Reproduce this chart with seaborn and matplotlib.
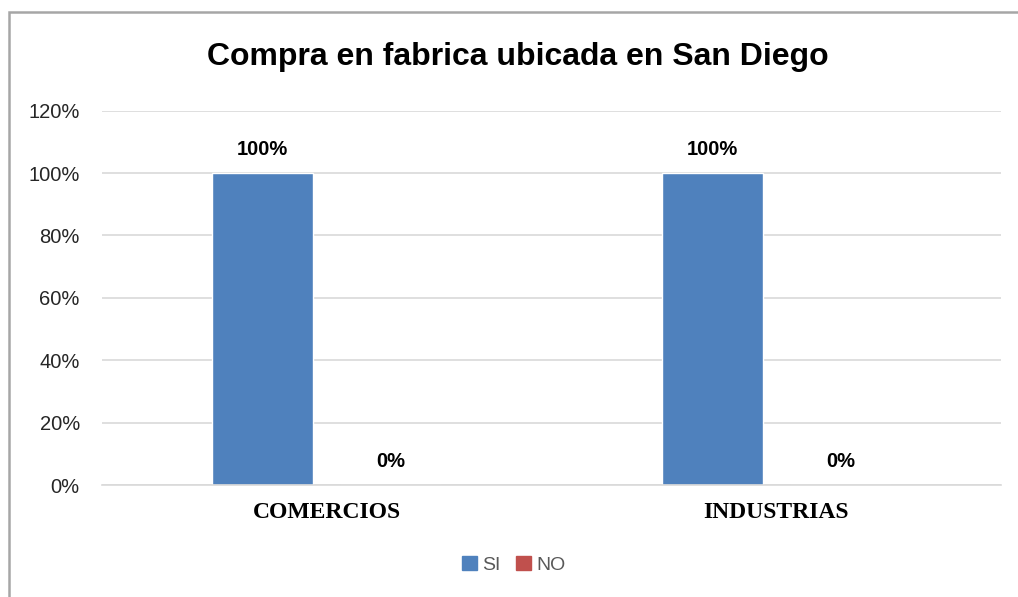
import matplotlib
matplotlib.use('Agg')
import matplotlib.pyplot as plt
from matplotlib.patches import Rectangle
import seaborn as sns
import pandas as pd

# Data
categorias = ['COMERCIOS', 'INDUSTRIAS']
series = ['SI', 'NO']
si_vals = [1.00, 1.00]
no_vals = [0.00, 0.00]
y_ticks = [0, 0.2, 0.4, 0.6, 0.8, 1.0, 1.2]
colores = ['#4F81BD', '#C0504D']

df = pd.DataFrame({
    'categoria': categorias * 2,
    'serie': ['SI'] * len(categorias) + ['NO'] * len(categorias),
    'valor': si_vals + no_vals,
})

sns.set_style('white')
plt.rcParams['font.family'] = ['Liberation Sans', 'DejaVu Sans']

fig = plt.figure(figsize=(10.18, 5.97), dpi=100)
ax = fig.add_axes([0.1002, 0.1876, 0.8831, 0.627])

sns.barplot(data=df, x='categoria', y='valor', hue='serie', hue_order=series,
            palette=colores, width=0.57, gap=0.21, saturation=1,
            errorbar=None, legend=False, ax=ax)

# data labels
for cont in ax.containers:
    ax.bar_label(cont, labels=['{:.0%}'.format(v) for v in cont.datavalues],
                 padding=10, fontsize=14.5, fontweight='bold', color='#000000')

ax.set_ylim(0, 1.2)
ax.set_xlim(-0.5, 1.5)
ax.set_yticks(y_ticks)
ax.set_yticklabels(['{:.0%}'.format(t) for t in y_ticks], fontsize=14.5, color='#262626')
ax.set_xticks(range(len(categorias)))
ax.set_xticklabels(categorias, fontsize=17, fontweight='bold',
                   family=['Liberation Serif', 'DejaVu Serif'], color='#000000')
ax.tick_params(axis='y', length=0, pad=16)
ax.tick_params(axis='x', length=0, pad=12)
ax.set_xlabel('')
ax.set_ylabel('')
ax.yaxis.grid(True, color='#D9D9D9', linewidth=1.2)
ax.set_axisbelow(True)
for s in ['top', 'right', 'left']:
    ax.spines[s].set_visible(False)
ax.spines['bottom'].set_color('#D9D9D9')
ax.spines['bottom'].set_linewidth(1.2)

fig.text(0.509, 0.905, 'Compra en fabrica ubicada en San Diego', ha='center', va='center',
         fontsize=23, fontweight='bold', color='#000000')

# legend
handles = [Rectangle((0, 0), 1, 1, color=c) for c in colores]
fig.legend(handles, series, loc='center', bbox_to_anchor=(0.505, 0.054), ncol=2,
           frameon=False, handlelength=0.75, handleheight=0.75, handletextpad=0.3,
           columnspacing=0.8, labelcolor='#595959',
           prop={'size': 14})

# chart area border (top and left visible)
fig.patches.append(Rectangle((8.5 / 1018, -0.2), 1.2, 1.2 - 11.5 / 597,
                             transform=fig.transFigure, fill=False,
                             edgecolor='#A6A6A6', linewidth=1.8))

fig.savefig('out.png', dpi=100)
